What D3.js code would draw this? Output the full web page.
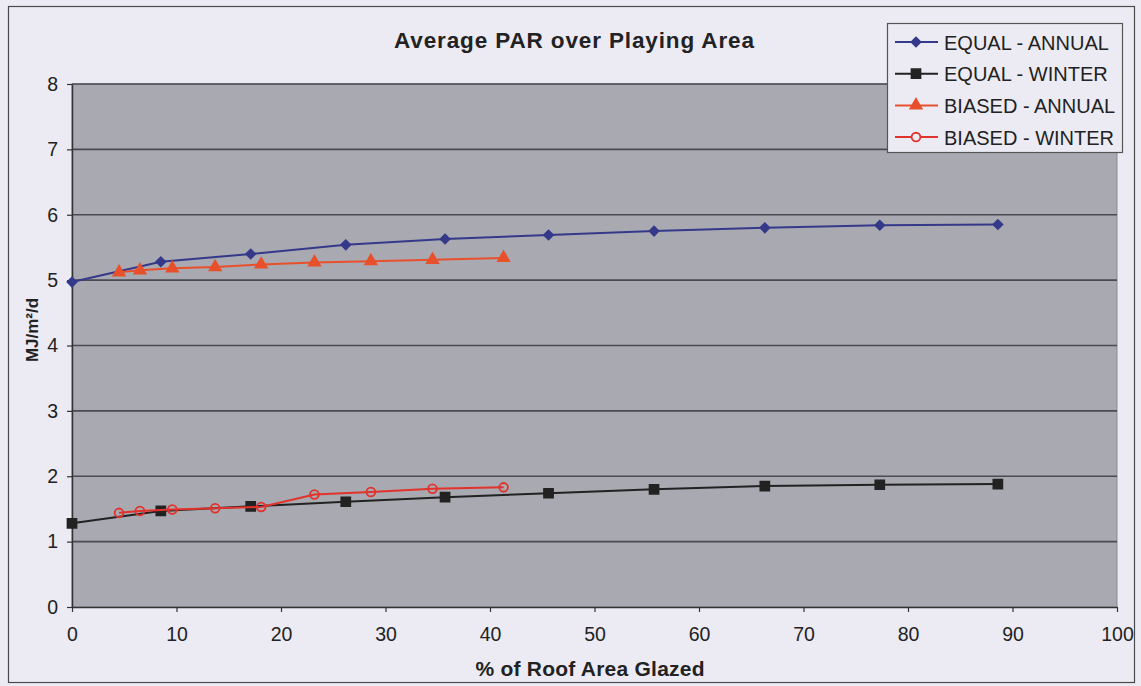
<!DOCTYPE html>
<html>
<head>
<meta charset="utf-8">
<script src="https://cdn.jsdelivr.net/npm/d3@7"></script>
<style>
  body { margin: 0; background: #ecebf4; }
  svg { display: block; font-family: Arial, "Liberation Sans", sans-serif; }
</style>
</head>
<body>
<div id="chart"></div>
<script>
// Data
var glazedEqual = [0, 8.5, 17.1, 26.2, 35.7, 45.6, 55.7, 66.3, 77.3, 88.6];
var equalAnnual = [4.97, 5.28, 5.40, 5.54, 5.63, 5.69, 5.75, 5.80, 5.84, 5.85];
var equalWinter = [1.28, 1.47, 1.54, 1.61, 1.68, 1.74, 1.80, 1.85, 1.87, 1.88];
var glazedBiased = [4.5, 6.5, 9.6, 13.7, 18.1, 23.2, 28.6, 34.5, 41.3];
var biasedAnnual = [5.12, 5.15, 5.18, 5.20, 5.24, 5.27, 5.29, 5.31, 5.34];
var biasedWinter = [1.44, 1.47, 1.49, 1.51, 1.53, 1.72, 1.76, 1.81, 1.83];
var seriesNames = ['EQUAL - ANNUAL', 'EQUAL - WINTER', 'BIASED - ANNUAL', 'BIASED - WINTER'];
var xTicks = [0, 10, 20, 30, 40, 50, 60, 70, 80, 90, 100];
var yTicks = [0, 1, 2, 3, 4, 5, 6, 7, 8];

var width = 1141;
var height = 686;
var plot = { left: 72, right: 1117, top: 84, bottom: 607 };

// diamonds are squares turned by 45 degrees
var series = [
    { name: seriesNames[0], xs: glazedEqual, ys: equalAnnual, color: '#35398a', symbol: d3.symbolSquare, size: 45, rot: 45, hollow: false },
    { name: seriesNames[1], xs: glazedEqual, ys: equalWinter, color: '#222222', symbol: d3.symbolSquare, size: 85, rot: 0, hollow: false },
    { name: seriesNames[2], xs: glazedBiased, ys: biasedAnnual, color: '#e8502c', symbol: d3.symbolTriangle, size: 60, rot: 0, hollow: false },
    { name: seriesNames[3], xs: glazedBiased, ys: biasedWinter, color: '#e2322c', symbol: d3.symbolCircle, size: 60, rot: 0, hollow: true }
];

var svg = d3.select('#chart')
    .append('svg')
    .attr('width', width)
    .attr('height', height);

// Outer chart frame
svg.append('rect')
    .attr('x', 8.5).attr('y', 6.5)
    .attr('width', 1126).attr('height', 676)
    .attr('fill', '#ecebf4')
    .attr('stroke', '#4a4a4a')
    .attr('stroke-width', 1.2);

var x = d3.scaleLinear().domain([0, 100]).range([plot.left, plot.right]);
var y = d3.scaleLinear().domain([0, 8]).range([plot.bottom, plot.top]);

// Plot area
svg.append('rect')
    .attr('x', plot.left).attr('y', plot.top)
    .attr('width', plot.right - plot.left)
    .attr('height', plot.bottom - plot.top)
    .attr('fill', '#a9a9b1')
    .attr('stroke', '#8a8a92')
    .attr('stroke-width', 1);

// Gridlines
svg.append('g')
    .selectAll('line')
    .data(yTicks.slice(1))
    .enter()
    .append('line')
    .attr('x1', plot.left).attr('x2', plot.right)
    .attr('y1', function(d) { return y(d); })
    .attr('y2', function(d) { return y(d); })
    .attr('stroke', '#4a4a52')
    .attr('stroke-width', 1.6);

// Axes
var xAxis = svg.append('g')
    .attr('transform', 'translate(0,' + plot.bottom + ')')
    .call(d3.axisBottom(x).tickValues(xTicks).tickSize(5).tickSizeOuter(0).tickPadding(15));

var yAxis = svg.append('g')
    .attr('transform', 'translate(' + plot.left + ',0)')
    .call(d3.axisLeft(y).tickValues(yTicks).tickSize(5).tickSizeOuter(0).tickPadding(9));

[xAxis, yAxis].forEach(function(a) {
    a.select('.domain').attr('stroke', '#333').attr('stroke-width', 1.5);
    a.selectAll('.tick line').attr('stroke', '#333').attr('stroke-width', 1.2);
    a.selectAll('.tick text')
        .attr('fill', '#222')
        .style('font-size', '19.5px')
        .style('font-family', 'Arial, "Liberation Sans", sans-serif');
});

// Lines and markers
var line = d3.line()
    .x(function(d) { return x(d[0]); })
    .y(function(d) { return y(d[1]); });

series.forEach(function(s) {
    var pts = s.xs.map(function(v, i) { return [v, s.ys[i]]; });

    svg.append('path')
        .datum(pts)
        .attr('d', line)
        .attr('fill', 'none')
        .attr('stroke', s.color)
        .attr('stroke-width', 2);

    svg.append('g')
        .selectAll('path')
        .data(pts)
        .enter()
        .append('path')
        .attr('d', d3.symbol().type(s.symbol).size(s.size))
        .attr('transform', function(d) {
            return 'translate(' + x(d[0]) + ',' + y(d[1]) + ') rotate(' + s.rot + ')';
        })
        .attr('fill', s.hollow ? 'none' : s.color)
        .attr('stroke', s.color)
        .attr('stroke-width', s.hollow ? 1.8 : 1.5);
});

// Title and axis labels
svg.append('text')
    .attr('x', 574).attr('y', 48)
    .attr('text-anchor', 'middle')
    .attr('textLength', 360)
    .attr('lengthAdjust', 'spacing')
    .style('font-size', '22.5px')
    .style('font-weight', 'bold')
    .attr('fill', '#222')
    .text('Average PAR over Playing Area');

svg.append('text')
    .attr('x', 590).attr('y', 676)
    .attr('text-anchor', 'middle')
    .attr('textLength', 229)
    .attr('lengthAdjust', 'spacing')
    .style('font-size', '21px')
    .style('font-weight', 'bold')
    .attr('fill', '#222')
    .text('% of Roof Area Glazed');

svg.append('text')
    .attr('transform', 'translate(38,330) rotate(-90)')
    .attr('text-anchor', 'middle')
    .style('font-size', '17px')
    .style('font-weight', 'bold')
    .attr('fill', '#222')
    .text('MJ/m²/d');

// Legend
var legend = svg.append('g');
legend.append('rect')
    .attr('x', 887.5).attr('y', 23.5)
    .attr('width', 235).attr('height', 129)
    .attr('fill', '#ecebf4')
    .attr('stroke', '#555')
    .attr('stroke-width', 1.2);

var item = legend.selectAll('.legend-item')
    .data(series)
    .enter()
    .append('g')
    .attr('class', 'legend-item')
    .attr('transform', function(d, i) {
        return 'translate(0,' + (42 + i * 31.7) + ')';
    });

item.append('line')
    .attr('x1', 895).attr('x2', 938)
    .attr('stroke', function(d) { return d.color; })
    .attr('stroke-width', 2);

item.append('path')
    .attr('transform', function(d) { return 'translate(916,0) rotate(' + d.rot + ')'; })
    .attr('d', function(d) { return d3.symbol().type(d.symbol).size(d.size)(); })
    .attr('fill', function(d) { return d.hollow ? '#ecebf4' : d.color; })
    .attr('stroke', function(d) { return d.color; })
    .attr('stroke-width', function(d) { return d.hollow ? 1.8 : 1.5; });

item.append('text')
    .attr('x', 944).attr('y', 7.5)
    .style('font-size', '20px')
    .attr('fill', '#222')
    .text(function(d) { return d.name; });
</script>
</body>
</html>
